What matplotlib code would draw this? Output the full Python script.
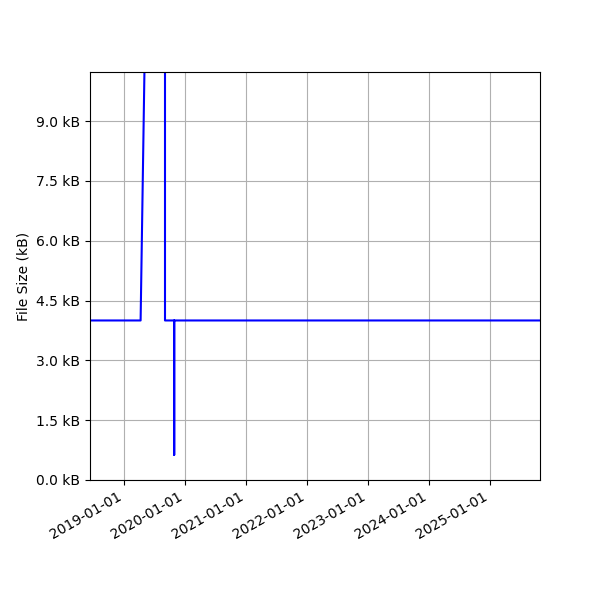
import matplotlib
matplotlib.use("Agg")
import matplotlib.pyplot as plt
import matplotlib.dates as mdates
import matplotlib.ticker as mticker
import pandas as pd

# file size history (kB)
dates = pd.to_datetime([
    "2018-06-11", "2019-04-10", "2019-05-13", "2019-09-03", "2019-09-03",
    "2019-10-28", "2019-10-28", "2019-10-28", "2025-10-26",
])
sizes = [4.0, 4.0, 13.0, 13.0, 4.0, 4.0, 0.63, 4.0, 4.0]

fig, ax = plt.subplots(figsize=(6, 6), dpi=100)
ax.plot(dates, sizes, color="blue", linewidth=1.5)

ax.set_xlim(dates[0], dates[-1])
ax.set_ylim(0, 10.23)
ax.yaxis.set_major_locator(mticker.MultipleLocator(1.5))
ax.yaxis.set_major_formatter(mticker.FuncFormatter(lambda v, p: f"{v:.1f} kB"))
ax.xaxis.set_major_locator(mdates.YearLocator())
ax.xaxis.set_major_formatter(mdates.DateFormatter("%Y-%m-%d"))
ax.set_ylabel("File Size (kB)")
ax.grid(True)

fig.autofmt_xdate()
fig.subplots_adjust(left=0.15, right=0.9, top=0.88, bottom=0.2)
fig.savefig("out.png")
